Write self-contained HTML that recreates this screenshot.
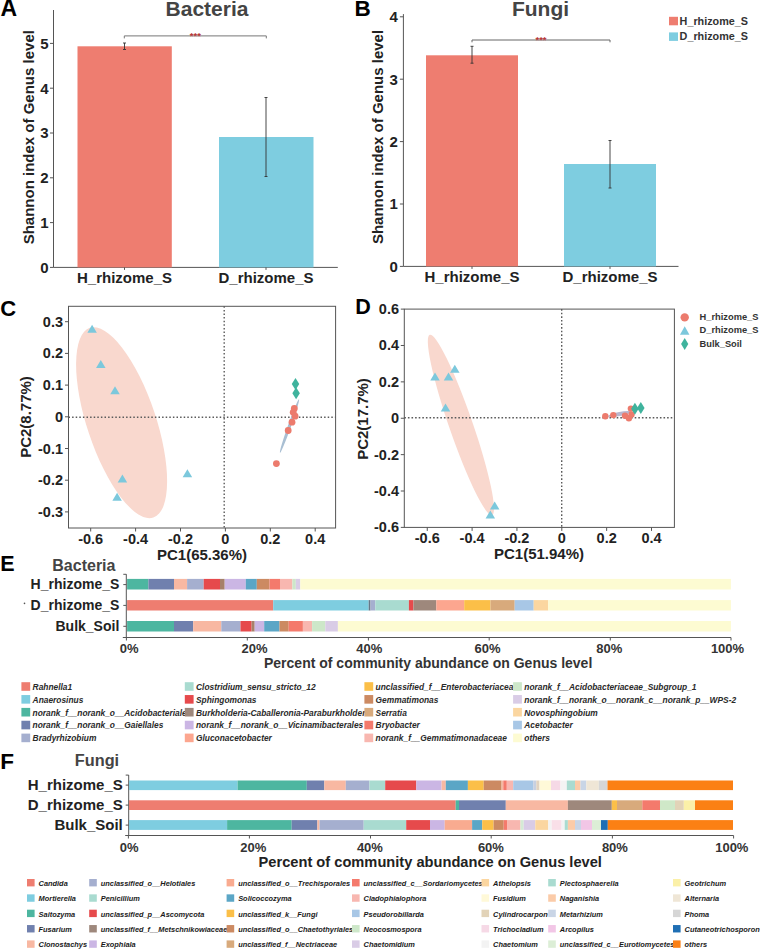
<!DOCTYPE html>
<html><head><meta charset="utf-8"><style>
html,body{margin:0;padding:0;background:#fff;width:760px;height:950px;overflow:hidden}
svg{display:block;font-family:"Liberation Sans", sans-serif}
</style></head><body>
<svg width="760" height="950" viewBox="0 0 760 950">
<rect width="760" height="950" fill="#fff"/>
<text x="0.6" y="15.9" font-size="23" text-anchor="start" font-weight="bold" font-style="normal" fill="#000" >A</text>
<text x="354.6" y="15.7" font-size="22.5" text-anchor="start" font-weight="bold" font-style="normal" fill="#000" >B</text>
<text x="0.3" y="315.9" font-size="22" text-anchor="start" font-weight="bold" font-style="normal" fill="#000" >C</text>
<text x="355.2" y="314.4" font-size="21.5" text-anchor="start" font-weight="bold" font-style="normal" fill="#000" >D</text>
<text x="0.2" y="570.8" font-size="21.5" text-anchor="start" font-weight="bold" font-style="normal" fill="#000" >E</text>
<text x="0.2" y="768.7" font-size="22.5" text-anchor="start" font-weight="bold" font-style="normal" fill="#000" >F</text>
<line x1="53.5" y1="10" x2="53.5" y2="267.4" stroke="#555" stroke-width="1" />
<line x1="53.5" y1="267.4" x2="337.8" y2="267.4" stroke="#555" stroke-width="1" />
<line x1="50.0" y1="267.4" x2="53.5" y2="267.4" stroke="#555" stroke-width="1" />
<text x="48.5" y="272.7" font-size="15" text-anchor="end" font-weight="bold" font-style="normal" fill="#222" >0</text>
<line x1="50.0" y1="222.59999999999997" x2="53.5" y2="222.59999999999997" stroke="#555" stroke-width="1" />
<text x="48.5" y="227.89999999999998" font-size="15" text-anchor="end" font-weight="bold" font-style="normal" fill="#222" >1</text>
<line x1="50.0" y1="177.79999999999998" x2="53.5" y2="177.79999999999998" stroke="#555" stroke-width="1" />
<text x="48.5" y="183.1" font-size="15" text-anchor="end" font-weight="bold" font-style="normal" fill="#222" >2</text>
<line x1="50.0" y1="133.0" x2="53.5" y2="133.0" stroke="#555" stroke-width="1" />
<text x="48.5" y="138.3" font-size="15" text-anchor="end" font-weight="bold" font-style="normal" fill="#222" >3</text>
<line x1="50.0" y1="88.19999999999999" x2="53.5" y2="88.19999999999999" stroke="#555" stroke-width="1" />
<text x="48.5" y="93.49999999999999" font-size="15" text-anchor="end" font-weight="bold" font-style="normal" fill="#222" >4</text>
<line x1="50.0" y1="43.39999999999998" x2="53.5" y2="43.39999999999998" stroke="#555" stroke-width="1" />
<text x="48.5" y="48.699999999999974" font-size="15" text-anchor="end" font-weight="bold" font-style="normal" fill="#222" >5</text>
<rect x="77.50" y="46.30" width="94.30" height="221.10" fill="#ee7d70"/>
<rect x="219.00" y="137.00" width="94.50" height="130.40" fill="#7ecde0"/>
<line x1="124.5" y1="267.4" x2="124.5" y2="269.9" stroke="#555" stroke-width="1" />
<line x1="266" y1="267.4" x2="266" y2="269.9" stroke="#555" stroke-width="1" />
<text x="124.5" y="283.4" font-size="15" text-anchor="middle" font-weight="bold" font-style="normal" fill="#222" >H_rhizome_S</text>
<text x="266" y="283.4" font-size="15" text-anchor="middle" font-weight="bold" font-style="normal" fill="#222" >D_rhizome_S</text>
<line x1="124.5" y1="43" x2="124.5" y2="49.5" stroke="#333" stroke-width="0.9" />
<line x1="123.0" y1="43" x2="126.0" y2="43" stroke="#333" stroke-width="0.9" />
<line x1="123.0" y1="49.5" x2="126.0" y2="49.5" stroke="#333" stroke-width="0.9" />
<line x1="266" y1="97.5" x2="266" y2="176.5" stroke="#333" stroke-width="0.9" />
<line x1="264.5" y1="97.5" x2="267.5" y2="97.5" stroke="#333" stroke-width="0.9" />
<line x1="264.5" y1="176.5" x2="267.5" y2="176.5" stroke="#333" stroke-width="0.9" />
<polyline points="124.3,38.4 124.3,35.9 266.3,35.9 266.3,38.4" fill="none" stroke="#777" stroke-width="1"/>
<text x="195.3" y="39.1" font-size="9.5" text-anchor="middle" font-weight="bold" font-style="normal" fill="#b83a3a" >***</text>
<text x="207" y="16.3" font-size="21" text-anchor="middle" font-weight="bold" font-style="normal" fill="#444" >Bacteria</text>
<text x="0" y="0" font-size="15" text-anchor="middle" font-weight="bold" font-style="normal" fill="#222" transform="translate(33.8,137.2) rotate(-90)">Shannon index of Genus level</text>
<line x1="403.4" y1="14.1" x2="403.4" y2="266.4" stroke="#555" stroke-width="1" />
<line x1="403.4" y1="266.4" x2="678.5" y2="266.4" stroke="#555" stroke-width="1" />
<line x1="399.9" y1="266.4" x2="403.4" y2="266.4" stroke="#555" stroke-width="1" />
<text x="397.8" y="271.7" font-size="15" text-anchor="end" font-weight="bold" font-style="normal" fill="#222" >0</text>
<line x1="399.9" y1="203.99999999999997" x2="403.4" y2="203.99999999999997" stroke="#555" stroke-width="1" />
<text x="397.8" y="209.29999999999998" font-size="15" text-anchor="end" font-weight="bold" font-style="normal" fill="#222" >1</text>
<line x1="399.9" y1="141.59999999999997" x2="403.4" y2="141.59999999999997" stroke="#555" stroke-width="1" />
<text x="397.8" y="146.89999999999998" font-size="15" text-anchor="end" font-weight="bold" font-style="normal" fill="#222" >2</text>
<line x1="399.9" y1="79.19999999999999" x2="403.4" y2="79.19999999999999" stroke="#555" stroke-width="1" />
<text x="397.8" y="84.49999999999999" font-size="15" text-anchor="end" font-weight="bold" font-style="normal" fill="#222" >3</text>
<line x1="399.9" y1="16.799999999999983" x2="403.4" y2="16.799999999999983" stroke="#555" stroke-width="1" />
<text x="397.8" y="22.099999999999984" font-size="15" text-anchor="end" font-weight="bold" font-style="normal" fill="#222" >4</text>
<rect x="426.00" y="55.30" width="92.00" height="211.10" fill="#ee7d70"/>
<rect x="564.00" y="164.00" width="92.00" height="102.40" fill="#7ecde0"/>
<line x1="472" y1="266.4" x2="472" y2="268.9" stroke="#555" stroke-width="1" />
<line x1="610" y1="266.4" x2="610" y2="268.9" stroke="#555" stroke-width="1" />
<text x="472" y="282.2" font-size="15" text-anchor="middle" font-weight="bold" font-style="normal" fill="#222" >H_rhizome_S</text>
<text x="610" y="282.2" font-size="15" text-anchor="middle" font-weight="bold" font-style="normal" fill="#222" >D_rhizome_S</text>
<line x1="472" y1="46.3" x2="472" y2="63.2" stroke="#333" stroke-width="0.9" />
<line x1="470.5" y1="46.3" x2="473.5" y2="46.3" stroke="#333" stroke-width="0.9" />
<line x1="470.5" y1="63.2" x2="473.5" y2="63.2" stroke="#333" stroke-width="0.9" />
<line x1="610" y1="140.5" x2="610" y2="188" stroke="#333" stroke-width="0.9" />
<line x1="608.5" y1="140.5" x2="611.5" y2="140.5" stroke="#333" stroke-width="0.9" />
<line x1="608.5" y1="188" x2="611.5" y2="188" stroke="#333" stroke-width="0.9" />
<polyline points="472,42.3 472,40 610,40 610,42.3" fill="none" stroke="#666" stroke-width="1"/>
<text x="541" y="42.8" font-size="9.5" text-anchor="middle" font-weight="bold" font-style="normal" fill="#b83a3a" >***</text>
<text x="540.5" y="16.3" font-size="21" text-anchor="middle" font-weight="bold" font-style="normal" fill="#444" >Fungi</text>
<text x="0" y="0" font-size="15" text-anchor="middle" font-weight="bold" font-style="normal" fill="#222" transform="translate(383,137) rotate(-90)">Shannon index of Genus level</text>
<rect x="669.00" y="16.80" width="9.00" height="8.50" fill="#ee7d70"/>
<rect x="669.00" y="32.40" width="9.00" height="8.50" fill="#7ecde0"/>
<text x="679.6" y="24.6" font-size="10.8" text-anchor="start" font-weight="bold" font-style="normal" fill="#333" >H_rhizome_S</text>
<text x="679.6" y="40.2" font-size="10.8" text-anchor="start" font-weight="bold" font-style="normal" fill="#333" >D_rhizome_S</text>
<rect x="68.5" y="306.3" width="267.1" height="221.7" fill="none" stroke="#555" stroke-width="1"/>
<line x1="65.0" y1="321.70000000000005" x2="68.5" y2="321.70000000000005" stroke="#555" stroke-width="1" />
<text x="63" y="326.70000000000005" font-size="14.5" text-anchor="end" font-weight="bold" font-style="normal" fill="#222" >0.3</text>
<line x1="65.0" y1="353.4" x2="68.5" y2="353.4" stroke="#555" stroke-width="1" />
<text x="63" y="358.4" font-size="14.5" text-anchor="end" font-weight="bold" font-style="normal" fill="#222" >0.2</text>
<line x1="65.0" y1="385.1" x2="68.5" y2="385.1" stroke="#555" stroke-width="1" />
<text x="63" y="390.1" font-size="14.5" text-anchor="end" font-weight="bold" font-style="normal" fill="#222" >0.1</text>
<line x1="65.0" y1="416.8" x2="68.5" y2="416.8" stroke="#555" stroke-width="1" />
<text x="63" y="421.8" font-size="14.5" text-anchor="end" font-weight="bold" font-style="normal" fill="#222" >0</text>
<line x1="65.0" y1="448.5" x2="68.5" y2="448.5" stroke="#555" stroke-width="1" />
<text x="63" y="453.5" font-size="14.5" text-anchor="end" font-weight="bold" font-style="normal" fill="#222" >-0.1</text>
<line x1="65.0" y1="480.20000000000005" x2="68.5" y2="480.20000000000005" stroke="#555" stroke-width="1" />
<text x="63" y="485.20000000000005" font-size="14.5" text-anchor="end" font-weight="bold" font-style="normal" fill="#222" >-0.2</text>
<line x1="65.0" y1="511.9" x2="68.5" y2="511.9" stroke="#555" stroke-width="1" />
<text x="63" y="516.9" font-size="14.5" text-anchor="end" font-weight="bold" font-style="normal" fill="#222" >-0.3</text>
<line x1="90.70000000000002" y1="528" x2="90.70000000000002" y2="531.5" stroke="#555" stroke-width="1" />
<text x="90.70000000000002" y="543.9" font-size="14.5" text-anchor="middle" font-weight="bold" font-style="normal" fill="#222" >-0.6</text>
<line x1="135.6" y1="528" x2="135.6" y2="531.5" stroke="#555" stroke-width="1" />
<text x="135.6" y="543.9" font-size="14.5" text-anchor="middle" font-weight="bold" font-style="normal" fill="#222" >-0.4</text>
<line x1="180.5" y1="528" x2="180.5" y2="531.5" stroke="#555" stroke-width="1" />
<text x="180.5" y="543.9" font-size="14.5" text-anchor="middle" font-weight="bold" font-style="normal" fill="#222" >-0.2</text>
<line x1="225.4" y1="528" x2="225.4" y2="531.5" stroke="#555" stroke-width="1" />
<text x="225.4" y="543.9" font-size="14.5" text-anchor="middle" font-weight="bold" font-style="normal" fill="#222" >0</text>
<line x1="270.3" y1="528" x2="270.3" y2="531.5" stroke="#555" stroke-width="1" />
<text x="270.3" y="543.9" font-size="14.5" text-anchor="middle" font-weight="bold" font-style="normal" fill="#222" >0.2</text>
<line x1="315.20000000000005" y1="528" x2="315.20000000000005" y2="531.5" stroke="#555" stroke-width="1" />
<text x="315.20000000000005" y="543.9" font-size="14.5" text-anchor="middle" font-weight="bold" font-style="normal" fill="#222" >0.4</text>
<text x="202" y="559.5" font-size="15" text-anchor="middle" font-weight="bold" font-style="normal" fill="#222" >PC1(65.36%)</text>
<text x="0" y="0" font-size="15" text-anchor="middle" font-weight="bold" font-style="normal" fill="#222" transform="translate(30.6,417) rotate(-90)">PC2(8.77%)</text>
<ellipse cx="121.6" cy="422.7" rx="34.4" ry="100" fill="#f9d8ce" transform="rotate(-18.5 121.6 422.7)"/>
<line x1="224.2" y1="306.3" x2="224.2" y2="528" stroke="#5a5a5a" stroke-width="1.4" stroke-dasharray="1.5,2.1"/>
<line x1="68.5" y1="417.2" x2="335.6" y2="417.2" stroke="#5a5a5a" stroke-width="1.4" stroke-dasharray="1.5,2.1"/>
<ellipse cx="289.5" cy="426" rx="1.6" ry="28.5" fill="#a9bfd3" transform="rotate(19.5 289.5 426)"/>
<polygon points="87.35,332.70 96.85,332.70 92.10,324.70" fill="#7cc8dc"/>
<polygon points="96.05,368.00 105.55,368.00 100.80,360.00" fill="#7cc8dc"/>
<polygon points="110.25,394.30 119.75,394.30 115.00,386.30" fill="#7cc8dc"/>
<polygon points="117.65,482.40 127.15,482.40 122.40,474.40" fill="#7cc8dc"/>
<polygon points="112.35,500.80 121.85,500.80 117.10,492.80" fill="#7cc8dc"/>
<polygon points="182.65,477.20 192.15,477.20 187.40,469.20" fill="#7cc8dc"/>
<circle cx="294.3" cy="408.4" r="3.4" fill="#ec7b6d"/>
<circle cx="293.2" cy="412.3" r="3.4" fill="#ec7b6d"/>
<circle cx="295.1" cy="416.2" r="3.4" fill="#ec7b6d"/>
<circle cx="292" cy="422.2" r="3.4" fill="#ec7b6d"/>
<circle cx="288.2" cy="430.5" r="3.4" fill="#ec7b6d"/>
<circle cx="276.4" cy="463.6" r="3.4" fill="#ec7b6d"/>
<polygon points="295.50,378.10 299.25,384.10 295.50,390.10 291.75,384.10" fill="#3fb39d"/>
<polygon points="296.10,387.20 299.85,393.20 296.10,399.20 292.35,393.20" fill="#3fb39d"/>
<rect x="404.3" y="309.1" width="270.09999999999997" height="218.29999999999995" fill="none" stroke="#555" stroke-width="1"/>
<line x1="400.8" y1="309.11" x2="404.3" y2="309.11" stroke="#555" stroke-width="1" />
<text x="399" y="314.11" font-size="14.5" text-anchor="end" font-weight="bold" font-style="normal" fill="#222" >0.6</text>
<line x1="400.8" y1="345.49" x2="404.3" y2="345.49" stroke="#555" stroke-width="1" />
<text x="399" y="350.49" font-size="14.5" text-anchor="end" font-weight="bold" font-style="normal" fill="#222" >0.4</text>
<line x1="400.8" y1="381.87" x2="404.3" y2="381.87" stroke="#555" stroke-width="1" />
<text x="399" y="386.87" font-size="14.5" text-anchor="end" font-weight="bold" font-style="normal" fill="#222" >0.2</text>
<line x1="400.8" y1="418.25" x2="404.3" y2="418.25" stroke="#555" stroke-width="1" />
<text x="399" y="423.25" font-size="14.5" text-anchor="end" font-weight="bold" font-style="normal" fill="#222" >0</text>
<line x1="400.8" y1="454.63" x2="404.3" y2="454.63" stroke="#555" stroke-width="1" />
<text x="399" y="459.63" font-size="14.5" text-anchor="end" font-weight="bold" font-style="normal" fill="#222" >-0.2</text>
<line x1="400.8" y1="491.01" x2="404.3" y2="491.01" stroke="#555" stroke-width="1" />
<text x="399" y="496.01" font-size="14.5" text-anchor="end" font-weight="bold" font-style="normal" fill="#222" >-0.4</text>
<line x1="400.8" y1="527.39" x2="404.3" y2="527.39" stroke="#555" stroke-width="1" />
<text x="399" y="532.39" font-size="14.5" text-anchor="end" font-weight="bold" font-style="normal" fill="#222" >-0.6</text>
<line x1="427.25" y1="527.4" x2="427.25" y2="530.9" stroke="#555" stroke-width="1" />
<text x="427.25" y="543.4" font-size="14.5" text-anchor="middle" font-weight="bold" font-style="normal" fill="#222" >-0.6</text>
<line x1="472.09999999999997" y1="527.4" x2="472.09999999999997" y2="530.9" stroke="#555" stroke-width="1" />
<text x="472.09999999999997" y="543.4" font-size="14.5" text-anchor="middle" font-weight="bold" font-style="normal" fill="#222" >-0.4</text>
<line x1="516.9499999999999" y1="527.4" x2="516.9499999999999" y2="530.9" stroke="#555" stroke-width="1" />
<text x="516.9499999999999" y="543.4" font-size="14.5" text-anchor="middle" font-weight="bold" font-style="normal" fill="#222" >-0.2</text>
<line x1="561.8" y1="527.4" x2="561.8" y2="530.9" stroke="#555" stroke-width="1" />
<text x="561.8" y="543.4" font-size="14.5" text-anchor="middle" font-weight="bold" font-style="normal" fill="#222" >0</text>
<line x1="606.65" y1="527.4" x2="606.65" y2="530.9" stroke="#555" stroke-width="1" />
<text x="606.65" y="543.4" font-size="14.5" text-anchor="middle" font-weight="bold" font-style="normal" fill="#222" >0.2</text>
<line x1="651.5" y1="527.4" x2="651.5" y2="530.9" stroke="#555" stroke-width="1" />
<text x="651.5" y="543.4" font-size="14.5" text-anchor="middle" font-weight="bold" font-style="normal" fill="#222" >0.4</text>
<text x="539" y="558.5" font-size="15" text-anchor="middle" font-weight="bold" font-style="normal" fill="#222" >PC1(51.94%)</text>
<text x="0" y="0" font-size="15" text-anchor="middle" font-weight="bold" font-style="normal" fill="#222" transform="translate(367.8,419) rotate(-90)">PC2(17.7%)</text>
<ellipse cx="460.9" cy="425" rx="11.8" ry="95.4" fill="#f9d8ce" transform="rotate(-19.05 460.9 425)"/>
<line x1="561.7" y1="309.1" x2="561.7" y2="527.4" stroke="#5a5a5a" stroke-width="1.4" stroke-dasharray="1.6,2.0"/>
<line x1="404.3" y1="417.7" x2="674.4" y2="417.7" stroke="#5a5a5a" stroke-width="1.4" stroke-dasharray="1.6,2.0"/>
<ellipse cx="619.5" cy="414" rx="2" ry="12" fill="#b8b8d0" transform="rotate(79 619.5 414)"/>
<polygon points="430.25,380.60 439.75,380.60 435.00,372.60" fill="#7cc8dc"/>
<polygon points="443.75,380.60 453.25,380.60 448.50,372.60" fill="#7cc8dc"/>
<polygon points="450.05,372.70 459.55,372.70 454.80,364.70" fill="#7cc8dc"/>
<polygon points="440.75,411.60 450.25,411.60 445.50,403.60" fill="#7cc8dc"/>
<polygon points="489.95,509.60 499.45,509.60 494.70,501.60" fill="#7cc8dc"/>
<polygon points="485.55,518.50 495.05,518.50 490.30,510.50" fill="#7cc8dc"/>
<circle cx="605.3" cy="416.3" r="3.2" fill="#ec7b6d"/>
<circle cx="613.3" cy="415.1" r="3.2" fill="#ec7b6d"/>
<circle cx="625" cy="415.7" r="3.2" fill="#ec7b6d"/>
<circle cx="628.9" cy="418.3" r="3.2" fill="#ec7b6d"/>
<circle cx="631.5" cy="414.5" r="3.2" fill="#ec7b6d"/>
<circle cx="630.9" cy="408.6" r="3.2" fill="#ec7b6d"/>
<polygon points="634.90,402.80 638.65,408.80 634.90,414.80 631.15,408.80" fill="#3fb39d"/>
<polygon points="640.80,402.00 644.55,408.00 640.80,414.00 637.05,408.00" fill="#3fb39d"/>
<circle cx="684.7" cy="317.4" r="4.2" fill="#ec7b6d"/>
<polygon points="679.95,334.85 689.45,334.85 684.70,326.35" fill="#7cc8dc"/>
<polygon points="684.70,338.00 688.30,344.00 684.70,350.00 681.10,344.00" fill="#3fb39d"/>
<text x="699.6" y="319.9" font-size="9.3" text-anchor="start" font-weight="bold" font-style="normal" fill="#333" >H_rhizome_S</text>
<text x="699.6" y="333.4" font-size="9.3" text-anchor="start" font-weight="bold" font-style="normal" fill="#333" >D_rhizome_S</text>
<text x="699.6" y="347.1" font-size="9.3" text-anchor="start" font-weight="bold" font-style="normal" fill="#333" >Bulk_Soil</text>
<circle cx="24.5" cy="603.4" r="0.8" fill="#555"/>
<text x="52.3" y="571" font-size="16" text-anchor="start" font-weight="bold" font-style="normal" fill="#444" >Bacteria</text>
<line x1="126.3" y1="574.2" x2="126.3" y2="637.5" stroke="#555" stroke-width="1" />
<line x1="123.3" y1="574.3" x2="126.3" y2="574.3" stroke="#555" stroke-width="1" />
<line x1="122.8" y1="637.5" x2="731" y2="637.5" stroke="#555" stroke-width="1" />
<rect x="127.10" y="578.90" width="21.30" height="10.60" fill="#4db6a0"/>
<rect x="148.40" y="578.90" width="25.60" height="10.60" fill="#7080ae"/>
<rect x="174.00" y="578.90" width="13.10" height="10.60" fill="#f8b8a2"/>
<rect x="187.10" y="578.90" width="16.60" height="10.60" fill="#a5afcf"/>
<rect x="203.70" y="578.90" width="16.30" height="10.60" fill="#e64a4c"/>
<rect x="220.00" y="578.90" width="4.70" height="10.60" fill="#a6806a"/>
<rect x="224.70" y="578.90" width="21.10" height="10.60" fill="#cbb6e4"/>
<rect x="245.80" y="578.90" width="11.00" height="10.60" fill="#5ba6c6"/>
<rect x="256.80" y="578.90" width="12.70" height="10.60" fill="#cc8a62"/>
<rect x="269.50" y="578.90" width="10.50" height="10.60" fill="#f47a6c"/>
<rect x="280.00" y="578.90" width="12.40" height="10.60" fill="#f8b7b0"/>
<rect x="292.40" y="578.90" width="3.40" height="10.60" fill="#cde7c9"/>
<rect x="295.80" y="578.90" width="4.50" height="10.60" fill="#d9cce6"/>
<rect x="300.30" y="578.90" width="430.60" height="10.60" fill="#fdfbd2"/>
<rect x="127.10" y="600.10" width="146.10" height="10.40" fill="#ee7d70"/>
<rect x="273.20" y="600.10" width="95.50" height="10.40" fill="#7ecde0"/>
<rect x="368.70" y="600.10" width="1.80" height="10.40" fill="#667788"/>
<rect x="370.50" y="600.10" width="4.80" height="10.40" fill="#a5afcf"/>
<rect x="375.30" y="600.10" width="33.60" height="10.40" fill="#a9dbd0"/>
<rect x="408.90" y="600.10" width="4.50" height="10.40" fill="#e64a4c"/>
<rect x="413.40" y="600.10" width="22.90" height="10.40" fill="#9e887c"/>
<rect x="436.30" y="600.10" width="27.90" height="10.40" fill="#fca68f"/>
<rect x="464.20" y="600.10" width="26.30" height="10.40" fill="#fbbf48"/>
<rect x="490.50" y="600.10" width="24.20" height="10.40" fill="#d8aa7c"/>
<rect x="514.70" y="600.10" width="19.00" height="10.40" fill="#a8c7e6"/>
<rect x="533.70" y="600.10" width="14.50" height="10.40" fill="#fbd6a0"/>
<rect x="548.20" y="600.10" width="182.70" height="10.40" fill="#fdfbd2"/>
<rect x="127.10" y="621.00" width="46.90" height="10.50" fill="#4db6a0"/>
<rect x="174.00" y="621.00" width="19.20" height="10.50" fill="#7080ae"/>
<rect x="193.20" y="621.00" width="28.10" height="10.50" fill="#f8b8a2"/>
<rect x="221.30" y="621.00" width="19.20" height="10.50" fill="#a5afcf"/>
<rect x="240.50" y="621.00" width="11.10" height="10.50" fill="#e64a4c"/>
<rect x="251.60" y="621.00" width="3.10" height="10.50" fill="#a6806a"/>
<rect x="254.70" y="621.00" width="9.50" height="10.50" fill="#cbb6e4"/>
<rect x="264.20" y="621.00" width="15.30" height="10.50" fill="#5ba6c6"/>
<rect x="279.50" y="621.00" width="9.20" height="10.50" fill="#cc8a62"/>
<rect x="288.70" y="621.00" width="14.20" height="10.50" fill="#f47a6c"/>
<rect x="302.90" y="621.00" width="9.20" height="10.50" fill="#f8b7b0"/>
<rect x="312.10" y="621.00" width="13.20" height="10.50" fill="#cde7c9"/>
<rect x="325.30" y="621.00" width="12.60" height="10.50" fill="#d9cce6"/>
<rect x="337.90" y="621.00" width="393.00" height="10.50" fill="#fdfbd2"/>
<line x1="123.3" y1="584.6" x2="126.3" y2="584.6" stroke="#555" stroke-width="1" />
<text x="119.3" y="588.6" font-size="14" text-anchor="end" font-weight="bold" font-style="normal" fill="#222" >H_rhizome_S</text>
<line x1="123.3" y1="605.4" x2="126.3" y2="605.4" stroke="#555" stroke-width="1" />
<text x="119.3" y="610.4" font-size="14" text-anchor="end" font-weight="bold" font-style="normal" fill="#222" >D_rhizome_S</text>
<line x1="123.3" y1="626.3" x2="126.3" y2="626.3" stroke="#555" stroke-width="1" />
<text x="119.3" y="631.3" font-size="14" text-anchor="end" font-weight="bold" font-style="normal" fill="#222" >Bulk_Soil</text>
<line x1="126.4" y1="637.5" x2="126.4" y2="640.5" stroke="#555" stroke-width="1" />
<text x="129.2" y="652.8" font-size="13" text-anchor="middle" font-weight="bold" font-style="normal" fill="#333" >0%</text>
<line x1="247.3" y1="637.5" x2="247.3" y2="640.5" stroke="#555" stroke-width="1" />
<text x="254.6" y="652.8" font-size="13" text-anchor="middle" font-weight="bold" font-style="normal" fill="#333" >20%</text>
<line x1="368.4" y1="637.5" x2="368.4" y2="640.5" stroke="#555" stroke-width="1" />
<text x="369.3" y="652.8" font-size="13" text-anchor="middle" font-weight="bold" font-style="normal" fill="#333" >40%</text>
<line x1="489.2" y1="637.5" x2="489.2" y2="640.5" stroke="#555" stroke-width="1" />
<text x="487.5" y="652.8" font-size="13" text-anchor="middle" font-weight="bold" font-style="normal" fill="#333" >60%</text>
<line x1="610.3" y1="637.5" x2="610.3" y2="640.5" stroke="#555" stroke-width="1" />
<text x="609.3" y="652.8" font-size="13" text-anchor="middle" font-weight="bold" font-style="normal" fill="#333" >80%</text>
<line x1="731" y1="637.5" x2="731" y2="640.5" stroke="#555" stroke-width="1" />
<text x="727.5" y="652.8" font-size="13" text-anchor="middle" font-weight="bold" font-style="normal" fill="#333" >100%</text>
<text x="264" y="667.8" font-size="14" text-anchor="start" font-weight="bold" font-style="normal" fill="#333" >Percent of community abundance on Genus level</text>
<text x="32.6" y="689.8" font-size="8.4" text-anchor="start" font-weight="bold" font-style="italic" fill="#2a2a2a" >Rahnella1</text>
<text x="32.6" y="702.65" font-size="8.4" text-anchor="start" font-weight="bold" font-style="italic" fill="#2a2a2a" >Anaerosinus</text>
<text x="32.6" y="715.5" font-size="8.4" text-anchor="start" font-weight="bold" font-style="italic" fill="#2a2a2a" >norank_f__norank_o__Acidobacteriales</text>
<text x="32.6" y="728.3499999999999" font-size="8.4" text-anchor="start" font-weight="bold" font-style="italic" fill="#2a2a2a" >norank_f__norank_o__Gaiellales</text>
<text x="32.6" y="741.1999999999999" font-size="8.4" text-anchor="start" font-weight="bold" font-style="italic" fill="#2a2a2a" >Bradyrhizobium</text>
<text x="196" y="689.8" font-size="8.4" text-anchor="start" font-weight="bold" font-style="italic" fill="#2a2a2a" >Clostridium_sensu_stricto_12</text>
<text x="196" y="702.65" font-size="8.4" text-anchor="start" font-weight="bold" font-style="italic" fill="#2a2a2a" >Sphingomonas</text>
<text x="196" y="715.5" font-size="8.4" text-anchor="start" font-weight="bold" font-style="italic" fill="#2a2a2a" >Burkholderia-Caballeronia-Paraburkholderia</text>
<text x="196" y="728.3499999999999" font-size="8.4" text-anchor="start" font-weight="bold" font-style="italic" fill="#2a2a2a" >norank_f__norank_o__Vicinamibacterales</text>
<text x="196" y="741.1999999999999" font-size="8.4" text-anchor="start" font-weight="bold" font-style="italic" fill="#2a2a2a" >Gluconacetobacter</text>
<text x="375.6" y="689.8" font-size="8.4" text-anchor="start" font-weight="bold" font-style="italic" fill="#2a2a2a" >unclassified_f__Enterobacteriaceae</text>
<text x="375.6" y="702.65" font-size="8.4" text-anchor="start" font-weight="bold" font-style="italic" fill="#2a2a2a" >Gemmatimonas</text>
<text x="375.6" y="715.5" font-size="8.4" text-anchor="start" font-weight="bold" font-style="italic" fill="#2a2a2a" >Serratia</text>
<text x="375.6" y="728.3499999999999" font-size="8.4" text-anchor="start" font-weight="bold" font-style="italic" fill="#2a2a2a" >Bryobacter</text>
<text x="375.6" y="741.1999999999999" font-size="8.4" text-anchor="start" font-weight="bold" font-style="italic" fill="#2a2a2a" >norank_f__Gemmatimonadaceae</text>
<text x="524.3" y="689.8" font-size="8.4" text-anchor="start" font-weight="bold" font-style="italic" fill="#2a2a2a" >norank_f__Acidobacteriaceae_Subgroup_1</text>
<text x="524.3" y="702.65" font-size="8.4" text-anchor="start" font-weight="bold" font-style="italic" fill="#2a2a2a" >norank_f__norank_o__norank_c__norank_p__WPS-2</text>
<text x="524.3" y="715.5" font-size="8.4" text-anchor="start" font-weight="bold" font-style="italic" fill="#2a2a2a" >Novosphingobium</text>
<text x="524.3" y="728.3499999999999" font-size="8.4" text-anchor="start" font-weight="bold" font-style="italic" fill="#2a2a2a" >Acetobacter</text>
<text x="524.3" y="741.1999999999999" font-size="8.4" text-anchor="start" font-weight="bold" font-style="italic" fill="#2a2a2a" >others</text>
<rect x="21.40" y="682.20" width="8.80" height="8.60" fill="#ee7d70"/>
<rect x="21.40" y="695.05" width="8.80" height="8.60" fill="#7ecde0"/>
<rect x="21.40" y="707.90" width="8.80" height="8.60" fill="#4db6a0"/>
<rect x="21.40" y="720.75" width="8.80" height="8.60" fill="#7080ae"/>
<rect x="21.40" y="733.60" width="8.80" height="8.60" fill="#a5afcf"/>
<rect x="184.80" y="682.20" width="8.80" height="8.60" fill="#a9dbd0"/>
<rect x="184.80" y="695.05" width="8.80" height="8.60" fill="#e64a4c"/>
<rect x="184.80" y="707.90" width="8.80" height="8.60" fill="#9e887c"/>
<rect x="184.80" y="720.75" width="8.80" height="8.60" fill="#cbb6e4"/>
<rect x="184.80" y="733.60" width="8.80" height="8.60" fill="#fca68f"/>
<rect x="364.40" y="682.20" width="8.80" height="8.60" fill="#fbbf48"/>
<rect x="364.40" y="695.05" width="8.80" height="8.60" fill="#cc8a62"/>
<rect x="364.40" y="707.90" width="8.80" height="8.60" fill="#d8aa7c"/>
<rect x="364.40" y="720.75" width="8.80" height="8.60" fill="#f47a6c"/>
<rect x="364.40" y="733.60" width="8.80" height="8.60" fill="#f8b7b0"/>
<rect x="513.10" y="682.20" width="8.80" height="8.60" fill="#cde7c9"/>
<rect x="513.10" y="695.05" width="8.80" height="8.60" fill="#d9cce6"/>
<rect x="513.10" y="707.90" width="8.80" height="8.60" fill="#fbd6a0"/>
<rect x="513.10" y="720.75" width="8.80" height="8.60" fill="#a8c7e6"/>
<rect x="513.10" y="733.60" width="8.80" height="8.60" fill="#fdfbd2"/>
<text x="74.8" y="766.3" font-size="16.3" text-anchor="start" font-weight="bold" font-style="normal" fill="#444" >Fungi</text>
<line x1="128.7" y1="775" x2="128.7" y2="835.5" stroke="#555" stroke-width="1" />
<line x1="125.69999999999999" y1="775.1" x2="128.7" y2="775.1" stroke="#555" stroke-width="1" />
<line x1="125.19999999999999" y1="835.5" x2="733.6" y2="835.5" stroke="#555" stroke-width="1" />
<rect x="129.00" y="780.50" width="108.60" height="9.60" fill="#7ecde0"/>
<rect x="237.60" y="780.50" width="69.20" height="9.60" fill="#4db6a0"/>
<rect x="306.80" y="780.50" width="17.50" height="9.60" fill="#7080ae"/>
<rect x="324.30" y="780.50" width="21.50" height="9.60" fill="#f8b8a2"/>
<rect x="345.80" y="780.50" width="23.60" height="9.60" fill="#a5afcf"/>
<rect x="369.40" y="780.50" width="15.80" height="9.60" fill="#a9dbd0"/>
<rect x="385.20" y="780.50" width="31.10" height="9.60" fill="#e64a4c"/>
<rect x="416.30" y="780.50" width="25.30" height="9.60" fill="#cbb6e4"/>
<rect x="441.60" y="780.50" width="4.20" height="9.60" fill="#f8b8a2"/>
<rect x="445.80" y="780.50" width="22.10" height="9.60" fill="#5ba6c6"/>
<rect x="467.90" y="780.50" width="15.80" height="9.60" fill="#fbbf48"/>
<rect x="483.70" y="780.50" width="17.90" height="9.60" fill="#cc8a62"/>
<rect x="501.60" y="780.50" width="1.70" height="9.60" fill="#f8b8a2"/>
<rect x="503.30" y="780.50" width="3.50" height="9.60" fill="#f47a6c"/>
<rect x="506.80" y="780.50" width="6.40" height="9.60" fill="#f8b7b0"/>
<rect x="513.20" y="780.50" width="20.00" height="9.60" fill="#a8c7e6"/>
<rect x="533.20" y="780.50" width="3.10" height="9.60" fill="#c8d0e0"/>
<rect x="536.30" y="780.50" width="3.20" height="9.60" fill="#e2d3c0"/>
<rect x="539.50" y="780.50" width="11.50" height="9.60" fill="#fff9d8"/>
<rect x="551.00" y="780.50" width="9.50" height="9.60" fill="#f6d9e6"/>
<rect x="560.50" y="780.50" width="6.30" height="9.60" fill="#f3f3f3"/>
<rect x="566.80" y="780.50" width="8.20" height="9.60" fill="#a9dbd0"/>
<rect x="575.00" y="780.50" width="5.50" height="9.60" fill="#fbcba8"/>
<rect x="580.50" y="780.50" width="5.80" height="9.60" fill="#c9d5e6"/>
<rect x="586.30" y="780.50" width="12.50" height="9.60" fill="#efe6d6"/>
<rect x="598.80" y="780.50" width="8.70" height="9.60" fill="#d6d6d6"/>
<rect x="607.50" y="780.50" width="125.50" height="9.60" fill="#fb8014"/>
<rect x="129.00" y="800.30" width="326.70" height="9.70" fill="#ee7d70"/>
<rect x="455.70" y="800.30" width="3.30" height="9.70" fill="#4db6a0"/>
<rect x="459.00" y="800.30" width="46.80" height="9.70" fill="#7080ae"/>
<rect x="505.80" y="800.30" width="62.10" height="9.70" fill="#f8b8a2"/>
<rect x="567.90" y="800.30" width="43.90" height="9.70" fill="#9e887c"/>
<rect x="611.80" y="800.30" width="5.20" height="9.70" fill="#fbbf48"/>
<rect x="617.00" y="800.30" width="25.30" height="9.70" fill="#d8aa7c"/>
<rect x="642.30" y="800.30" width="17.70" height="9.70" fill="#f47a6c"/>
<rect x="660.00" y="800.30" width="15.00" height="9.70" fill="#cfe8c8"/>
<rect x="675.00" y="800.30" width="8.80" height="9.70" fill="#e2d3b8"/>
<rect x="683.80" y="800.30" width="11.20" height="9.70" fill="#fbf0a8"/>
<rect x="695.00" y="800.30" width="38.00" height="9.70" fill="#fb8014"/>
<rect x="129.00" y="820.10" width="98.10" height="9.80" fill="#7ecde0"/>
<rect x="227.10" y="820.10" width="64.60" height="9.80" fill="#4db6a0"/>
<rect x="291.70" y="820.10" width="25.70" height="9.80" fill="#7080ae"/>
<rect x="317.40" y="820.10" width="2.10" height="9.80" fill="#f8b8a2"/>
<rect x="319.50" y="820.10" width="44.20" height="9.80" fill="#a5afcf"/>
<rect x="363.70" y="820.10" width="42.50" height="9.80" fill="#a9dbd0"/>
<rect x="406.20" y="820.10" width="23.80" height="9.80" fill="#e64a4c"/>
<rect x="430.00" y="820.10" width="14.70" height="9.80" fill="#cbb6e4"/>
<rect x="444.70" y="820.10" width="27.40" height="9.80" fill="#f9ab90"/>
<rect x="472.10" y="820.10" width="10.10" height="9.80" fill="#5ba6c6"/>
<rect x="482.20" y="820.10" width="11.40" height="9.80" fill="#fbbf48"/>
<rect x="493.60" y="820.10" width="10.10" height="9.80" fill="#cc8a62"/>
<rect x="503.70" y="820.10" width="3.80" height="9.80" fill="#f47a6c"/>
<rect x="507.50" y="820.10" width="13.00" height="9.80" fill="#f8b7b0"/>
<rect x="520.50" y="820.10" width="3.20" height="9.80" fill="#d5ead5"/>
<rect x="523.70" y="820.10" width="11.60" height="9.80" fill="#d9cce6"/>
<rect x="535.30" y="820.10" width="13.00" height="9.80" fill="#fbd6a0"/>
<rect x="548.30" y="820.10" width="3.40" height="9.80" fill="#f3f3f3"/>
<rect x="551.70" y="820.10" width="9.90" height="9.80" fill="#f9dfe8"/>
<rect x="561.60" y="820.10" width="3.10" height="9.80" fill="#f3f3f3"/>
<rect x="564.70" y="820.10" width="3.20" height="9.80" fill="#a9dbd0"/>
<rect x="567.90" y="820.10" width="7.10" height="9.80" fill="#fbcba8"/>
<rect x="575.00" y="820.10" width="6.00" height="9.80" fill="#c9d5e6"/>
<rect x="581.00" y="820.10" width="11.00" height="9.80" fill="#f2c6e6"/>
<rect x="592.00" y="820.10" width="9.00" height="9.80" fill="#dceed6"/>
<rect x="601.00" y="820.10" width="6.80" height="9.80" fill="#1f6fb4"/>
<rect x="607.80" y="820.10" width="125.20" height="9.80" fill="#fb8014"/>
<line x1="125.69999999999999" y1="785.1" x2="128.7" y2="785.1" stroke="#555" stroke-width="1" />
<text x="122.8" y="789.7" font-size="15" text-anchor="end" font-weight="bold" font-style="normal" fill="#222" >H_rhizome_S</text>
<line x1="125.69999999999999" y1="805.1" x2="128.7" y2="805.1" stroke="#555" stroke-width="1" />
<text x="122.8" y="810.1" font-size="15" text-anchor="end" font-weight="bold" font-style="normal" fill="#222" >D_rhizome_S</text>
<line x1="125.69999999999999" y1="825.1" x2="128.7" y2="825.1" stroke="#555" stroke-width="1" />
<text x="122.8" y="830.1" font-size="15" text-anchor="end" font-weight="bold" font-style="normal" fill="#222" >Bulk_Soil</text>
<line x1="128.4" y1="835.5" x2="128.4" y2="838.5" stroke="#555" stroke-width="1" />
<text x="129.1" y="852.3" font-size="13" text-anchor="middle" font-weight="bold" font-style="normal" fill="#333" >0%</text>
<line x1="249.4" y1="835.5" x2="249.4" y2="838.5" stroke="#555" stroke-width="1" />
<text x="253.3" y="852.3" font-size="13" text-anchor="middle" font-weight="bold" font-style="normal" fill="#333" >20%</text>
<line x1="370.5" y1="835.5" x2="370.5" y2="838.5" stroke="#555" stroke-width="1" />
<text x="369.9" y="852.3" font-size="13" text-anchor="middle" font-weight="bold" font-style="normal" fill="#333" >40%</text>
<line x1="491.2" y1="835.5" x2="491.2" y2="838.5" stroke="#555" stroke-width="1" />
<text x="490.9" y="852.3" font-size="13" text-anchor="middle" font-weight="bold" font-style="normal" fill="#333" >60%</text>
<line x1="612.4" y1="835.5" x2="612.4" y2="838.5" stroke="#555" stroke-width="1" />
<text x="614.9" y="852.3" font-size="13" text-anchor="middle" font-weight="bold" font-style="normal" fill="#333" >80%</text>
<line x1="733.6" y1="835.5" x2="733.6" y2="838.5" stroke="#555" stroke-width="1" />
<text x="731.8" y="852.3" font-size="13" text-anchor="middle" font-weight="bold" font-style="normal" fill="#333" >100%</text>
<text x="258.6" y="867.4" font-size="14.65" text-anchor="start" font-weight="bold" font-style="normal" fill="#222" >Percent of community abundance on Genus level</text>
<text x="38.6" y="885.8000000000001" font-size="7.4" text-anchor="start" font-weight="bold" font-style="italic" fill="#1a1a1a" >Candida</text>
<text x="38.6" y="901.1500000000001" font-size="7.4" text-anchor="start" font-weight="bold" font-style="italic" fill="#1a1a1a" >Mortierella</text>
<text x="38.6" y="916.5000000000001" font-size="7.4" text-anchor="start" font-weight="bold" font-style="italic" fill="#1a1a1a" >Saitozyma</text>
<text x="38.6" y="931.85" font-size="7.4" text-anchor="start" font-weight="bold" font-style="italic" fill="#1a1a1a" >Fusarium</text>
<text x="38.6" y="947.2" font-size="7.4" text-anchor="start" font-weight="bold" font-style="italic" fill="#1a1a1a" >Clonostachys</text>
<text x="100.8" y="885.8000000000001" font-size="7.4" text-anchor="start" font-weight="bold" font-style="italic" fill="#1a1a1a" >unclassified_o__Helotiales</text>
<text x="100.8" y="901.1500000000001" font-size="7.4" text-anchor="start" font-weight="bold" font-style="italic" fill="#1a1a1a" >Penicillium</text>
<text x="100.8" y="916.5000000000001" font-size="7.4" text-anchor="start" font-weight="bold" font-style="italic" fill="#1a1a1a" >unclassified_p__Ascomycota</text>
<text x="100.8" y="931.85" font-size="7.4" text-anchor="start" font-weight="bold" font-style="italic" fill="#1a1a1a" >unclassified_f__Metschnikowiaceae</text>
<text x="100.8" y="947.2" font-size="7.4" text-anchor="start" font-weight="bold" font-style="italic" fill="#1a1a1a" >Exophiala</text>
<text x="238.2" y="885.8000000000001" font-size="7.4" text-anchor="start" font-weight="bold" font-style="italic" fill="#1a1a1a" >unclassified_o__Trechisporales</text>
<text x="238.2" y="901.1500000000001" font-size="7.4" text-anchor="start" font-weight="bold" font-style="italic" fill="#1a1a1a" >Solicoccozyma</text>
<text x="238.2" y="916.5000000000001" font-size="7.4" text-anchor="start" font-weight="bold" font-style="italic" fill="#1a1a1a" >unclassified_k__Fungi</text>
<text x="238.2" y="931.85" font-size="7.4" text-anchor="start" font-weight="bold" font-style="italic" fill="#1a1a1a" >unclassified_o__Chaetothyriales</text>
<text x="238.2" y="947.2" font-size="7.4" text-anchor="start" font-weight="bold" font-style="italic" fill="#1a1a1a" >unclassified_f__Nectriaceae</text>
<text x="363.6" y="885.8000000000001" font-size="7.4" text-anchor="start" font-weight="bold" font-style="italic" fill="#1a1a1a" >unclassified_c__Sordariomycetes</text>
<text x="363.6" y="901.1500000000001" font-size="7.4" text-anchor="start" font-weight="bold" font-style="italic" fill="#1a1a1a" >Cladophialophora</text>
<text x="363.6" y="916.5000000000001" font-size="7.4" text-anchor="start" font-weight="bold" font-style="italic" fill="#1a1a1a" >Pseudorobillarda</text>
<text x="363.6" y="931.85" font-size="7.4" text-anchor="start" font-weight="bold" font-style="italic" fill="#1a1a1a" >Neocosmospora</text>
<text x="363.6" y="947.2" font-size="7.4" text-anchor="start" font-weight="bold" font-style="italic" fill="#1a1a1a" >Chaetomidium</text>
<text x="493.1" y="885.8000000000001" font-size="7.4" text-anchor="start" font-weight="bold" font-style="italic" fill="#1a1a1a" >Athelopsis</text>
<text x="493.1" y="901.1500000000001" font-size="7.4" text-anchor="start" font-weight="bold" font-style="italic" fill="#1a1a1a" >Fusidium</text>
<text x="493.1" y="916.5000000000001" font-size="7.4" text-anchor="start" font-weight="bold" font-style="italic" fill="#1a1a1a" >Cylindrocarpon</text>
<text x="493.1" y="931.85" font-size="7.4" text-anchor="start" font-weight="bold" font-style="italic" fill="#1a1a1a" >Trichocladium</text>
<text x="493.1" y="947.2" font-size="7.4" text-anchor="start" font-weight="bold" font-style="italic" fill="#1a1a1a" >Chaetomium</text>
<text x="559.8000000000001" y="885.8000000000001" font-size="7.4" text-anchor="start" font-weight="bold" font-style="italic" fill="#1a1a1a" >Plectosphaerella</text>
<text x="559.8000000000001" y="901.1500000000001" font-size="7.4" text-anchor="start" font-weight="bold" font-style="italic" fill="#1a1a1a" >Naganishia</text>
<text x="559.8000000000001" y="916.5000000000001" font-size="7.4" text-anchor="start" font-weight="bold" font-style="italic" fill="#1a1a1a" >Metarhizium</text>
<text x="559.8000000000001" y="931.85" font-size="7.4" text-anchor="start" font-weight="bold" font-style="italic" fill="#1a1a1a" >Arcopilus</text>
<text x="559.8000000000001" y="947.2" font-size="7.4" text-anchor="start" font-weight="bold" font-style="italic" fill="#1a1a1a" >unclassified_c__Eurotiomycetes</text>
<text x="684.6" y="885.8000000000001" font-size="7.4" text-anchor="start" font-weight="bold" font-style="italic" fill="#1a1a1a" >Geotrichum</text>
<text x="684.6" y="901.1500000000001" font-size="7.4" text-anchor="start" font-weight="bold" font-style="italic" fill="#1a1a1a" >Alternaria</text>
<text x="684.6" y="916.5000000000001" font-size="7.4" text-anchor="start" font-weight="bold" font-style="italic" fill="#1a1a1a" >Phoma</text>
<text x="684.6" y="931.85" font-size="7.4" text-anchor="start" font-weight="bold" font-style="italic" fill="#1a1a1a" >Cutaneotrichosporon</text>
<text x="684.6" y="947.2" font-size="7.4" text-anchor="start" font-weight="bold" font-style="italic" fill="#1a1a1a" >others</text>
<rect x="27.00" y="879.00" width="7.60" height="7.40" fill="#ee7d70"/>
<rect x="27.00" y="894.35" width="7.60" height="7.40" fill="#7ecde0"/>
<rect x="27.00" y="909.70" width="7.60" height="7.40" fill="#4db6a0"/>
<rect x="27.00" y="925.05" width="7.60" height="7.40" fill="#7080ae"/>
<rect x="27.00" y="940.40" width="7.60" height="7.40" fill="#f8b8a2"/>
<rect x="89.20" y="879.00" width="7.60" height="7.40" fill="#a5afcf"/>
<rect x="89.20" y="894.35" width="7.60" height="7.40" fill="#a9dbd0"/>
<rect x="89.20" y="909.70" width="7.60" height="7.40" fill="#e64a4c"/>
<rect x="89.20" y="925.05" width="7.60" height="7.40" fill="#9e887c"/>
<rect x="89.20" y="940.40" width="7.60" height="7.40" fill="#cbb6e4"/>
<rect x="226.60" y="879.00" width="7.60" height="7.40" fill="#f9ab90"/>
<rect x="226.60" y="894.35" width="7.60" height="7.40" fill="#5ba6c6"/>
<rect x="226.60" y="909.70" width="7.60" height="7.40" fill="#fbbf48"/>
<rect x="226.60" y="925.05" width="7.60" height="7.40" fill="#cc8a62"/>
<rect x="226.60" y="940.40" width="7.60" height="7.40" fill="#d8aa7c"/>
<rect x="352.00" y="879.00" width="7.60" height="7.40" fill="#f47a6c"/>
<rect x="352.00" y="894.35" width="7.60" height="7.40" fill="#f8b7b0"/>
<rect x="352.00" y="909.70" width="7.60" height="7.40" fill="#a8c7e6"/>
<rect x="352.00" y="925.05" width="7.60" height="7.40" fill="#cde7c9"/>
<rect x="352.00" y="940.40" width="7.60" height="7.40" fill="#d9cce6"/>
<rect x="481.50" y="879.00" width="7.60" height="7.40" fill="#fbd6a0"/>
<rect x="481.50" y="894.35" width="7.60" height="7.40" fill="#fff9d8"/>
<rect x="481.50" y="909.70" width="7.60" height="7.40" fill="#e2d3b8"/>
<rect x="481.50" y="925.05" width="7.60" height="7.40" fill="#f6d9e6"/>
<rect x="481.50" y="940.40" width="7.60" height="7.40" fill="#f3f3f3"/>
<rect x="548.20" y="879.00" width="7.60" height="7.40" fill="#a9dbd0"/>
<rect x="548.20" y="894.35" width="7.60" height="7.40" fill="#fbcba8"/>
<rect x="548.20" y="909.70" width="7.60" height="7.40" fill="#c9d5e6"/>
<rect x="548.20" y="925.05" width="7.60" height="7.40" fill="#f2c6e6"/>
<rect x="548.20" y="940.40" width="7.60" height="7.40" fill="#dceed6"/>
<rect x="673.00" y="879.00" width="7.60" height="7.40" fill="#fbf0a8"/>
<rect x="673.00" y="894.35" width="7.60" height="7.40" fill="#efe6d6"/>
<rect x="673.00" y="909.70" width="7.60" height="7.40" fill="#d6d6d6"/>
<rect x="673.00" y="925.05" width="7.60" height="7.40" fill="#1f6fb4"/>
<rect x="673.00" y="940.40" width="7.60" height="7.40" fill="#fb8014"/>
</svg></body></html>
